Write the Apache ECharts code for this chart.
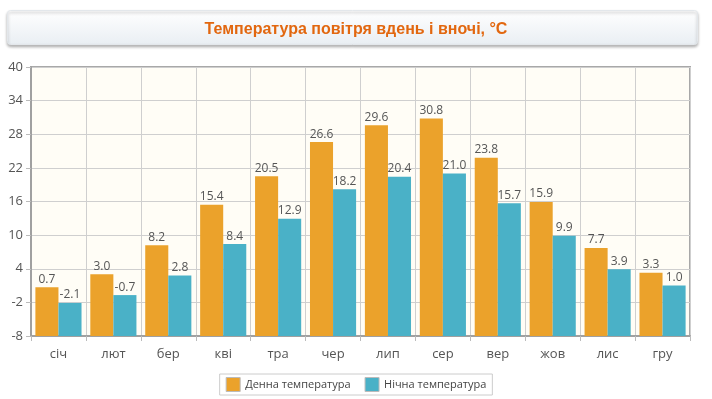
<!DOCTYPE html>
<html>
<head>
<meta charset="utf-8">
<script src="https://cdn.jsdelivr.net/npm/echarts@6/dist/echarts.min.js"></script>
<style>
  html, body { margin: 0; padding: 0; background: #fff; }
  #chart { width: 712px; height: 399px; }
</style>
</head>
<body>
<div id="chart"></div>
<script>
var months = ['січ', 'лют', 'бер', 'кві', 'тра', 'чер', 'лип', 'сер', 'вер', 'жов', 'лис', 'гру'];
var dayTemp = [0.7, 3.0, 8.2, 15.4, 20.5, 26.6, 29.6, 30.8, 23.8, 15.9, 7.7, 3.3];
var nightTemp = [-2.1, -0.7, 2.8, 8.4, 12.9, 18.2, 20.4, 21.0, 15.7, 9.9, 3.9, 1.0];
var seriesNames = ['Денна температура', 'Нічна температура'];

// init
var myChart = echarts.init(document.getElementById('chart'));

var labelStyle = {
    show: true,
    position: 'top',
    distance: 2,
    color: '#555',
    fontSize: 12,
    fontFamily: 'Open Sans',
    formatter: function (p) { return p.value.toFixed(1); }
};

var option = {
    animation: false,
    textStyle: { fontFamily: 'Open Sans' },
    graphic: [{
        type: 'rect',
        left: 7, top: 10,
        shape: { width: 690, height: 34, r: 3 },
        style: {
            fill: new echarts.graphic.LinearGradient(0, 0, 0, 1, [
                { offset: 0, color: '#ffffff' },
                { offset: 1, color: '#e9eef3' }
            ]),
            stroke: '#e3e7eb',
            shadowBlur: 3,
            shadowOffsetY: 2,
            shadowColor: 'rgba(0,0,0,0.3)'
        },
        z: 0
    }],
    title: {
        text: 'Температура повітря вдень і вночі, °C',
        left: 'center',
        top: 17,
        textStyle: {
            color: '#e2670f',
            fontSize: 16,
            fontWeight: 'bold',
            fontFamily: 'Liberation Sans Narrow, Liberation Sans, Arial'
        }
    },
    legend: {
        data: seriesNames,
        bottom: 4,
        left: 'center',
        itemWidth: 14,
        itemHeight: 14,
        itemGap: 14,
        padding: [3, 6],
        borderColor: '#ccc',
        borderWidth: 1,
        icon: 'rect',
        itemStyle: { borderColor: '#bbb', borderWidth: 1 },
        textStyle: { color: '#444', fontSize: 11, fontFamily: 'Open Sans' }
    },
    grid: {
        left: 31,
        right: 22,
        top: 67,
        bottom: 63,
        show: true,
        backgroundColor: '#fffdf6',
        borderColor: '#a8a8a8',
        borderWidth: 2
    },
    xAxis: {
        type: 'category',
        data: months,
        axisLine: { onZero: false, lineStyle: { color: '#a0a0a0', width: 2 } },
        axisTick: { show: true, alignWithLabel: false, length: 5, lineStyle: { color: '#bbb' } },
        axisLabel: { color: '#555', fontSize: 13, margin: 12 },
        splitLine: { show: true, lineStyle: { color: '#cfcfcf' } }
    },
    yAxis: {
        type: 'value',
        min: -8,
        max: 40,
        interval: 6,
        startValue: -8,
        axisLine: { show: true, lineStyle: { color: '#a0a0a0', width: 2 } },
        axisTick: { show: true, length: 5, lineStyle: { color: '#bbb' } },
        axisLabel: { color: '#555', fontSize: 13, margin: 8 },
        splitLine: { lineStyle: { color: '#cfcfcf' } }
    },
    series: [{
        name: seriesNames[0],
        type: 'bar',
        data: dayTemp,
        barGap: 0,
        barCategoryGap: '16%',
        itemStyle: { color: '#eba22b' },
        label: labelStyle
    }, {
        name: seriesNames[1],
        type: 'bar',
        data: nightTemp,
        itemStyle: { color: '#4ab1c7' },
        label: labelStyle
    }]
};

myChart.setOption(option);
</script>
</body>
</html>
